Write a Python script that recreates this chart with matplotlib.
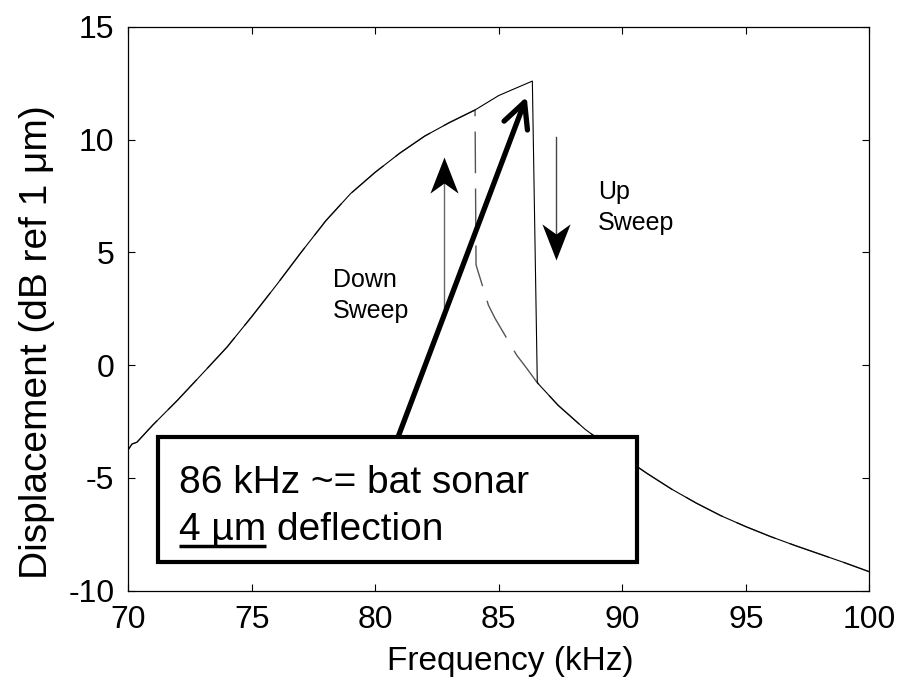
import numpy as np
import matplotlib
matplotlib.use('Agg')
import matplotlib.pyplot as plt
from matplotlib.path import Path
from matplotlib.patches import Rectangle

plt.rcParams['font.family'] = ['Liberation Sans', 'DejaVu Sans']
plt.rcParams['axes.unicode_minus'] = False

# upper branch, shared by both sweeps (kHz, dB)
upper_freq = [70.0, 70.15, 70.35, 71.0, 72.0, 73.0, 74.0, 75.0, 76.0, 77.0,
              78.0, 79.0, 80.0, 81.0, 82.0, 83.0, 84.04]
upper_disp = [-3.75, -3.5, -3.42, -2.65, -1.55, -0.38, 0.8, 2.15, 3.55, 5.0,
              6.4, 7.6, 8.55, 9.4, 10.15, 10.75, 11.31]

# up sweep keeps climbing to the jump, then drops
up_peak_freq = [85.0, 85.7, 86.36]
up_peak_disp = [11.95, 12.28, 12.59]

# lower branch (after the jump)
lower_freq = [86.56, 87.4, 88.5, 90.0, 91.0, 92.0, 93.0, 94.0, 95.0, 96.0,
              97.0, 98.0, 99.0, 100.0]
lower_disp = [-0.78, -1.78, -2.85, -4.05, -4.8, -5.5, -6.12, -6.68, -7.16,
              -7.6, -8.0, -8.38, -8.76, -9.16]

# down sweep, lower branch before the jump up at ~84 kHz
down_jump_freq = [84.08, 84.58, 84.85, 85.72, 86.13, 86.53]
down_jump_disp = [4.44, 2.66, 2.07, 0.45, -0.14, -0.74]

up_freq = upper_freq + up_peak_freq + lower_freq
up_disp = upper_disp + up_peak_disp + lower_disp
down_freq = upper_freq + down_jump_freq + lower_freq[1:]
down_disp = upper_disp + down_jump_disp + lower_disp[1:]

fig = plt.figure(figsize=(9.02, 6.78), dpi=100)
ax = fig.add_axes([0.1422, 0.1288, 0.8215, 0.8318])

ax.plot(down_freq, down_disp, color='#555555', lw=1.0, dashes=(30, 11))
ax.plot(up_freq, up_disp, color='k', lw=0.8)

ax.set_xlim(70, 100)
ax.set_ylim(-10, 15)
ax.set_xticks([70, 75, 80, 85, 90, 95, 100])
ax.set_yticks([-10, -5, 0, 5, 10, 15])
ax.tick_params(direction='in', length=5, width=0.8, top=True, right=True,
               labelsize=23, pad=10)
for s in ax.spines.values():
    s.set_linewidth(0.9)

ax.set_xlabel('Frequency (kHz)', fontsize=24, va='center')
ax.set_ylabel('Displacement (dB ref 1 \u03bcm)', fontsize=28, va='center')
ax.xaxis.set_label_coords(0.515, -0.126)
ax.yaxis.set_label_coords(-0.123, 0.441)

# sweep direction arrows (grey shaft, notched black head)
head = Path([(0, 0), (-0.39, -1.0), (0, -0.72), (0.39, -1.0), (0, 0)],
            [Path.MOVETO, Path.LINETO, Path.LINETO, Path.LINETO, Path.CLOSEPOLY])
head_dn = Path(-head.vertices, head.codes)
ax.plot([82.79, 82.79], [2.59, 8.6], color='#666666', lw=1.0)
ax.plot([82.79], [9.24], marker=head, markersize=52, color='k', mew=0)
ax.plot([87.30, 87.30], [10.10, 5.3], color='#444444', lw=1.0)
ax.plot([87.30], [4.66], marker=head_dn, markersize=52, color='k', mew=0)

ax.text(78.29, 3.09, 'Down\nSweep', fontsize=18, va='center', ha='left',
        linespacing=1.35)
ax.text(89.02, 7.0, 'Up\nSweep', fontsize=18, va='center', ha='left',
        linespacing=1.35)

# thick callout arrow
ax.annotate('', xy=(86.13, 11.9), xytext=(80.85, -3.4),
            arrowprops=dict(arrowstyle='->,head_length=0.9,head_width=0.45',
                            lw=3.8, color='k', mutation_scale=20,
                            shrinkA=0, shrinkB=0), zorder=4)

box = Rectangle((0.0405, 0.0514), 0.6455, 0.2211, transform=ax.transAxes,
                facecolor='white', edgecolor='k', lw=3.0, zorder=5)
ax.add_patch(box)
ax.text(0.0684, 0.191, '86 kHz ~= bat sonar', transform=ax.transAxes,
        fontsize=28, va='center', ha='left', zorder=6)
ax.text(0.0684, 0.108, '4 \u00b5m deflection', transform=ax.transAxes,
        fontsize=28, va='center', ha='left', zorder=6)
probe = ax.text(0.0684, 0.108, '4 \u00b5m', transform=ax.transAxes,
                fontsize=28, va='center', ha='left', alpha=0)

fig.canvas.draw()
bb = probe.get_window_extent().transformed(ax.transAxes.inverted())
ax.plot([bb.x0, bb.x1], [0.0793, 0.0793], transform=ax.transAxes,
        color='k', lw=2.5, solid_capstyle='butt', zorder=6)

fig.savefig('out.png', dpi=100)
